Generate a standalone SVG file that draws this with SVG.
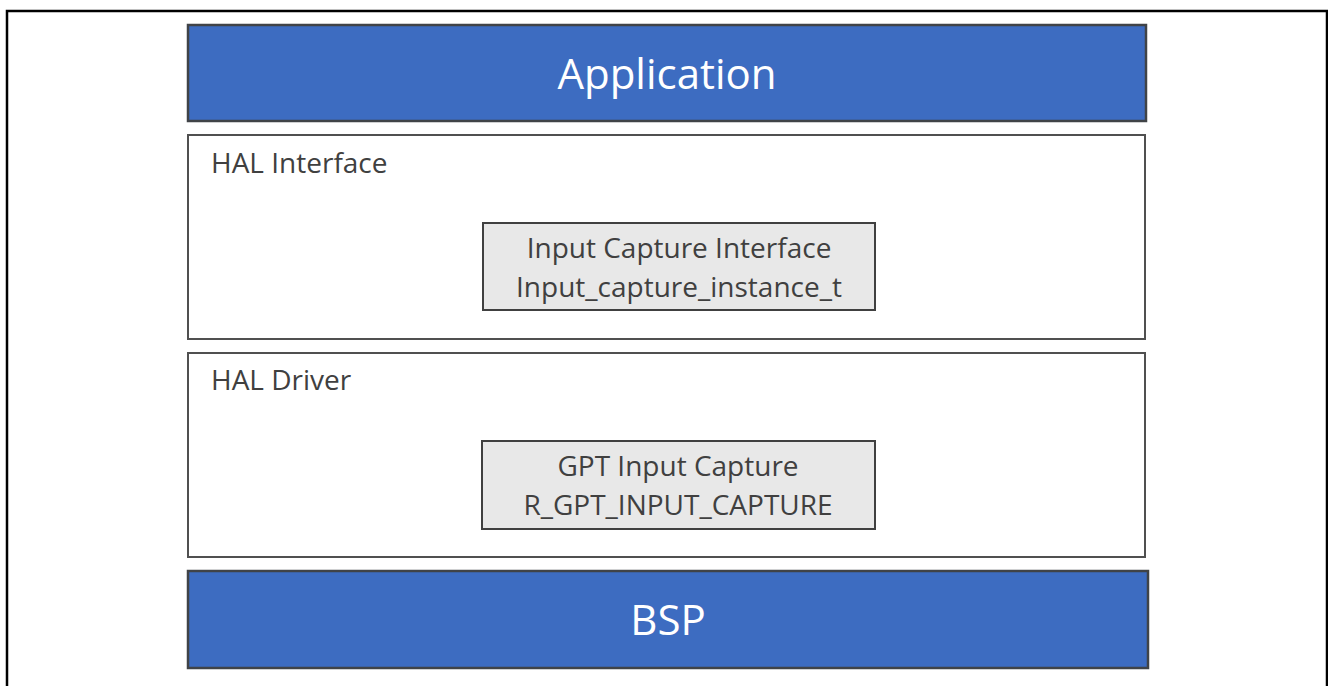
<svg xmlns="http://www.w3.org/2000/svg" width="1328" height="686" viewBox="0 0 1328 686">
<style>
.frame{fill:none;stroke:#000;stroke-width:2.5}
.blue{fill:#3D6CC1;stroke:#404347;stroke-width:2.5}
.layer{fill:#fff;stroke:#505050;stroke-width:2}
.mod{fill:#E8E8E8;stroke:#404040;stroke-width:2}
.t{font-family:"Open Sans","Liberation Sans",sans-serif;fill:#404040}
.big{font-family:"Open Sans","Liberation Sans",sans-serif;fill:#fff;font-size:42px;text-anchor:middle}
.lbl{font-size:28px}
.c{text-anchor:middle}
</style>
<rect x="0" y="0" width="1328" height="686" fill="#fff"/>
<path class="frame" d="M7,700 V11 H1327 V700"/>
<g id="application">
<rect class="blue" x="188" y="25" width="958" height="96"/>
<text class="big" x="667" y="89">Application</text>
</g>
<g id="hal-interface">
<rect class="layer" x="188" y="135" width="957" height="204"/>
<text class="t lbl" x="211" y="173">HAL Interface</text>
</g>
<g id="input-capture-interface">
<rect class="mod" x="483" y="223" width="392" height="87"/>
<text class="t lbl c" x="679" y="258">Input Capture Interface</text>
<text class="t lbl c" x="679" y="297">Input_capture_instance_t</text>
</g>
<g id="hal-driver">
<rect class="layer" x="188" y="353" width="957" height="204"/>
<text class="t lbl" x="211" y="390">HAL Driver</text>
</g>
<g id="gpt-input-capture">
<rect class="mod" x="482" y="441" width="393" height="88"/>
<text class="t lbl c" x="678" y="476">GPT Input Capture</text>
<text class="t lbl c" x="678" y="515">R_GPT_INPUT_CAPTURE</text>
</g>
<g id="bsp">
<rect class="blue" x="188" y="571" width="960" height="97"/>
<text class="big" x="668" y="635">BSP</text>
</g>
<g id="connectors"></g>
</svg>
